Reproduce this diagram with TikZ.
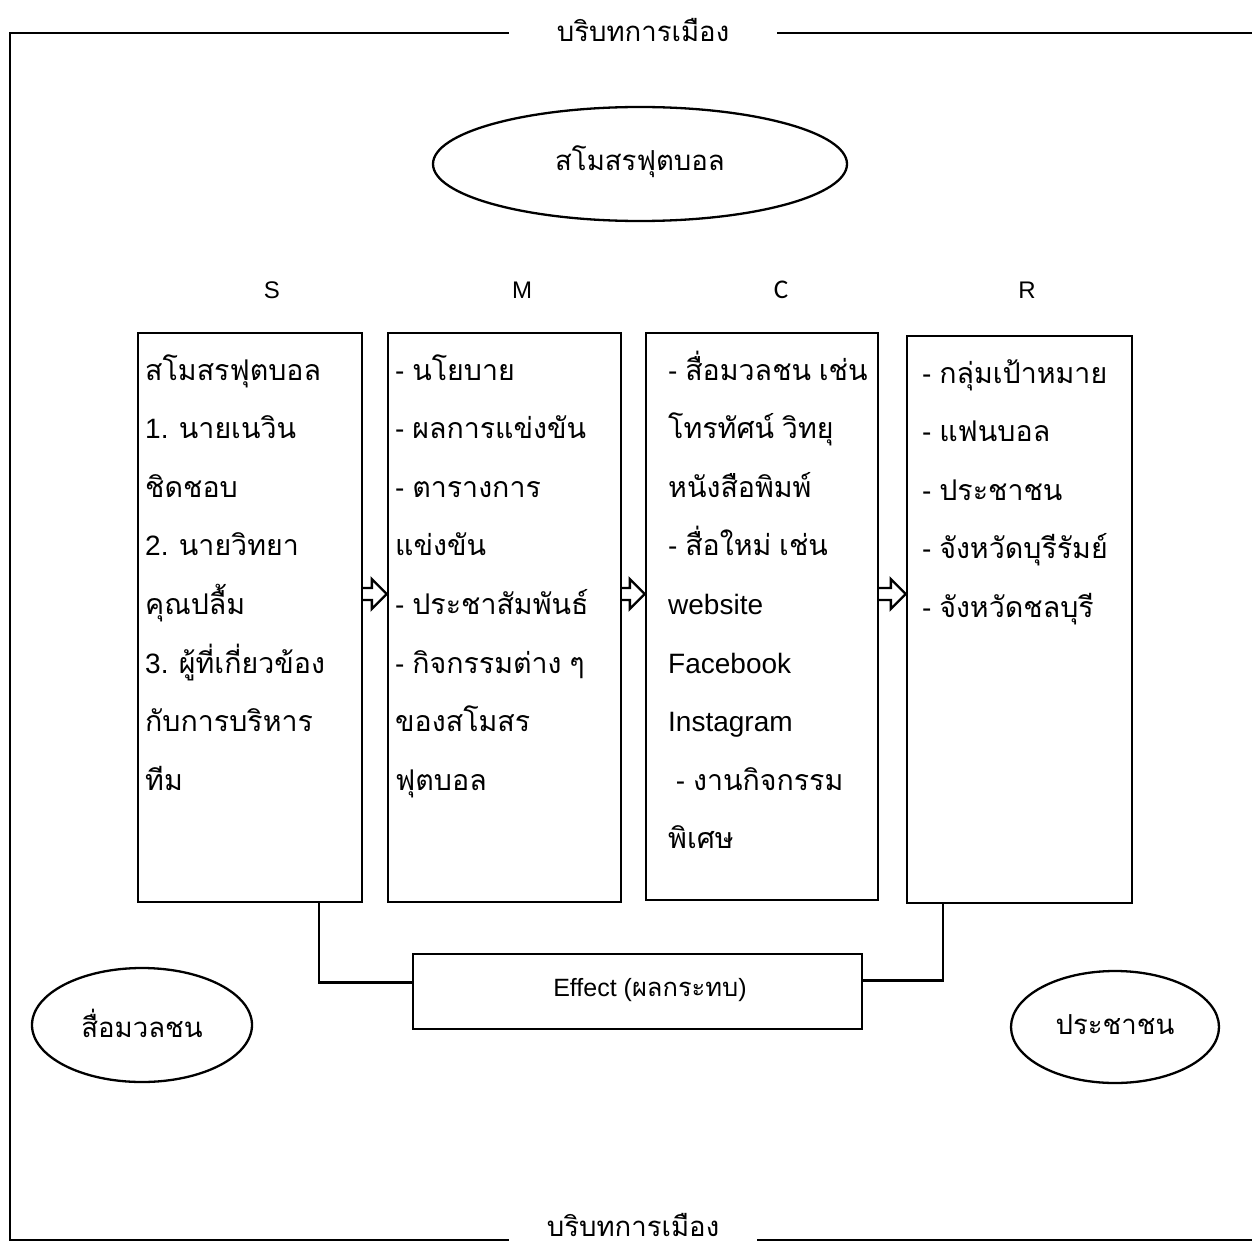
\documentclass[tikz,border=0pt]{standalone}
\usepackage{fontspec}
\setmainfont{Liberation Sans}
\newfontfamily\tf{Loma}[Script=Thai,Scale=1.02]
\newfontfamily\carlitofont{Carlito}
\usetikzlibrary{shapes.geometric,calc}
\begin{document}
\begin{tikzpicture}[x=1pt,y=-1pt,
  line/.style={line width=2.3pt,black},
  box/.style={draw,line width=2.3pt,inner sep=0pt},
  oval/.style={draw,ellipse,line width=2.3pt,inner sep=0pt},
  txt/.style={inner sep=0pt,font=\fontsize{28}{32}\selectfont},
  lbl/.style={inner sep=0pt,font=\fontsize{24}{28}\selectfont},
  title/.style={inner ysep=0pt,font=\tf\fontsize{27}{30}\selectfont},
  otxt/.style={font=\tf\fontsize{27}{30}\selectfont},
  arr/.style={line width=2.3pt,fill=white,line join=miter}]
\useasboundingbox (0,0) rectangle (1252,1249);
% frame
\node[title,inner xsep=48pt] (t1) at (643,30) {บริบทการเมือง};
\node[title,inner xsep=38pt] (t2) at (633,1225) {บริบทการเมือง};
\coordinate (ftl) at (10,33);
\coordinate (fbl) at (10,1240);
\coordinate (ftr) at (1252,33);
\coordinate (fbr) at (1252,1240);
\draw[line] (t1.west |- ftl) -- (ftl) -- (fbl) -- (t2.west |- fbl);
\draw[line] (t1.east |- ftr) -- (ftr);
\draw[line] (t2.east |- fbr) -- (fbr);
% ellipses
\node[oval,minimum width=414,minimum height=114] (club) at (640,164) {};
\node[otxt] (clubt) at (640,162) {สโมสรฟุตบอล};
\node[oval,minimum width=220,minimum height=114] (media) at (142,1025) {};
\node[otxt] (mediat) at (142,1023) {สื่อมวลชน};
\node[oval,minimum width=208,minimum height=112] (people) at (1115,1027) {};
\node[otxt] (peoplet) at (1115,1025) {ประชาชน};
% labels
\node[lbl] (lS) at (272,290) {S};
\node[lbl] (lM) at (522,290) {M};
\node[lbl,font=\carlitofont\fontsize{27}{30}\selectfont] (lC) at (781,290) {C};
\node[lbl] (lR) at (1027,290) {R};
% boxes
\node[box,minimum width=224,minimum height=569] (S) at (250,617.5) {};
\node[box,minimum width=233,minimum height=569] (M) at (504.5,617.5) {};
\node[box,minimum width=232,minimum height=567] (C) at (762,616.5) {};
\node[box,minimum width=225,minimum height=567] (R) at (1019.5,619.5) {};
% box texts
\foreach \t [count=\i from 0] in {{\tf สโมสรฟุตบอล},1. {\tf นายเนวิน},{\tf ชิดชอบ},2. {\tf นายวิทยา},{\tf คุณปลื้ม},3. {\tf ผู้ที่เกี่ยวข้อง},{\tf กับการบริหาร},{\tf ทีม}}
  \node[txt,anchor=base west] (s\i) at (145,380+\i*58.6) {\t};
\foreach \t [count=\i from 0] in {- {\tf นโยบาย},- {\tf ผลการแข่งขัน},- {\tf ตารางการ},{\tf แข่งขัน},- {\tf ประชาสัมพันธ์},- {\tf กิจกรรมต่าง} {\tf ๆ},{\tf ของสโมสร},{\tf ฟุตบอล}}
  \node[txt,anchor=base west] (m\i) at (395,380+\i*58.6) {\t};
\foreach \t [count=\i from 0] in {- {\tf สื่อมวลชน} {\tf เช่น},{\tf โทรทัศน์} {\tf วิทยุ},{\tf หนังสือพิมพ์},- {\tf สื่อใหม่} {\tf เช่น},website,Facebook,Instagram,\ - {\tf งานกิจกรรม},{\tf พิเศษ}}
  \node[txt,anchor=base west] (c\i) at (668,380+\i*58.6) {\t};
\foreach \t [count=\i from 0] in {- {\tf กลุ่มเป้าหมาย},- {\tf แฟนบอล},- {\tf ประชาชน},- {\tf จังหวัดบุรีรัมย์},- {\tf จังหวัดชลบุรี}}
  \node[txt,anchor=base west] (r\i) at (922,383+\i*58.6) {\t};
% hollow arrows
\coordinate (ay) at (0,594);
\foreach \a/\b in {S/M,M/C,C/R}{
  \draw[arr] ($(\a.east|-ay)+(0,-6)$) -- ($(\b.west|-ay)+(-15,-6)$) -- ($(\b.west|-ay)+(-15,-15)$)
    -- (\b.west|-ay) -- ($(\b.west|-ay)+(-15,15)$) -- ($(\b.west|-ay)+(-15,6)$) -- ($(\a.east|-ay)+(0,6)$);
}
% effect
\node[box,minimum width=449,minimum height=75] (E) at (637.5,991.5) {};
\node[txt,font=\fontsize{25}{28}\selectfont] (Et) at (650,990) {Effect ({\tf ผลกระทบ})};
\coordinate (sx) at (319,0);
\coordinate (rx) at (943,0);
\draw[line] (S.south -| sx) |- ($(E.west)+(0,-9)$);
\draw[line] (R.south -| rx) |- ($(E.east)+(0,-11)$);
\end{tikzpicture}
\end{document}
